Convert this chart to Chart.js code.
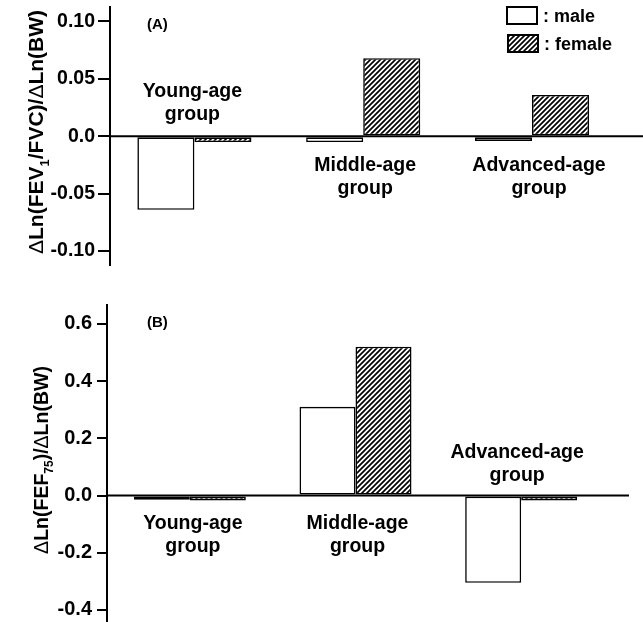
<!DOCTYPE html>
<html>
<head>
<meta charset="utf-8">
<script src="https://cdn.jsdelivr.net/npm/chart.js@4.4.1/dist/chart.umd.min.js"></script>
<style>
  html, body { margin: 0; padding: 0; background: #fff; }
  #wrap { position: relative; width: 643px; height: 622px; }
  .panel { position: absolute; left: 0; width: 643px; }
</style>
</head>
<body>
<div id="wrap">
  <div class="panel" style="top:0;height:290px"><canvas id="chartA"></canvas></div>
  <div class="panel" style="top:290px;height:332px"><canvas id="chartB"></canvas></div>
</div>
<script>
// Data
const groups = [['Young-age', 'group'], ['Middle-age', 'group'], ['Advanced-age', 'group']];
const seriesNames = ['male', 'female'];

// Panel A: dLn(FEV1/FVC)/dLn(BW)
const maleA = [-0.064, -0.005, -0.004];
const femaleA = [-0.005, 0.068, 0.036];
const ticksA = [-0.10, -0.05, 0.0, 0.05, 0.10];
const tickLabelsA = ['-0.10', '-0.05', '0.0', '0.05', '0.10'];

// Panel B: dLn(FEF75)/dLn(BW)
const maleB = [-0.015, 0.31, -0.305];
const femaleB = [-0.017, 0.52, -0.017];
const ticksB = [-0.4, -0.2, 0.0, 0.2, 0.4, 0.6];
const tickLabelsB = ['-0.4', '-0.2', '0.0', '0.2', '0.4', '0.6'];

const FONT = '"Liberation Sans", Arial, Helvetica, sans-serif';

function hatchPattern(ctx) {
    const s = 5;
    const c = document.createElement('canvas');
    c.width = c.height = s;
    const g = c.getContext('2d');
    g.fillStyle = '#fff';
    g.fillRect(0, 0, s, s);
    g.strokeStyle = '#000';
    g.lineWidth = 1.7;
    g.beginPath();
    g.moveTo(0, s); g.lineTo(s, 0);
    g.moveTo(-1, 1); g.lineTo(1, -1);
    g.moveTo(s - 1, s + 1); g.lineTo(s + 1, s - 1);
    g.stroke();
    return ctx.createPattern(c, 'repeat');
}

// draws rotated axis title with subscript, group labels, zero line, panel tag, legend
function panelPlugin(p) {
    return {
        id: 'panelDecor',
        afterDatasetsDraw(chart) {
            const ctx = chart.ctx;
            const xs = chart.scales.x, ys = chart.scales.y;
            const area = chart.chartArea;
            ctx.save();

            // zero line
            const y0 = ys.getPixelForValue(0);
            ctx.strokeStyle = '#000';
            ctx.lineWidth = 2;
            ctx.beginPath();
            ctx.moveTo(area.left, y0);
            ctx.lineTo(p.zeroEnd, y0);
            ctx.stroke();

            // group labels
            ctx.fillStyle = '#000';
            ctx.textAlign = 'center';
            ctx.textBaseline = 'alphabetic';
            ctx.font = 'bold ' + p.labelSize + 'px ' + FONT;
            groups.forEach((lines, i) => {
                const x = xs.getPixelForValue(i) + p.labelDx[i];
                const y = ys.getPixelForValue(p.labelAt[i]);
                lines.forEach((t, k) => ctx.fillText(t, x, y + k * p.lineGap));
            });

            // panel tag
            ctx.textAlign = 'left';
            ctx.font = 'bold 15px ' + FONT;
            ctx.fillText(p.tag, p.tagX, p.tagY);

            // y title, rotated, with subscript
            const size = p.titleSize;
            const fonts = {
                d: 'normal ' + size + 'px ' + FONT,
                b: 'bold ' + size + 'px ' + FONT,
                s: 'bold ' + Math.round(size * 0.62) + 'px ' + FONT
            };
            let total = 0;
            p.title.forEach(([t, f]) => { ctx.font = fonts[f]; total += ctx.measureText(t).width; });
            ctx.translate(p.titleX, p.titleY);
            ctx.rotate(-Math.PI / 2);
            let cx = -total / 2;
            p.title.forEach(([t, f]) => {
                ctx.font = fonts[f];
                ctx.fillText(t, cx, f === 's' ? size * 0.28 : 0);
                cx += ctx.measureText(t).width;
            });
            ctx.setTransform(1, 0, 0, 1, 0, 0);

            // legend (panel A only)
            if (p.legend) {
                const ds = chart.data.datasets;
                ctx.font = 'bold 18px ' + FONT;
                ctx.lineWidth = 2;
                p.legend.forEach((L, i) => {
                    ctx.fillStyle = ds[i].backgroundColor;
                    ctx.fillRect(L.x, L.y, 30, 17);
                    ctx.strokeStyle = '#000';
                    ctx.strokeRect(L.x, L.y, 30, 17);
                    ctx.fillStyle = '#000';
                    ctx.fillText(': ' + seriesNames[i], L.x + 36, L.y + 15);
                });
            }
            ctx.restore();
        }
    };
}

function makeChart(id, male, female, ticks, tickLabels, p) {
    const canvas = document.getElementById(id);
    const pattern = hatchPattern(canvas.getContext('2d'));
    return new Chart(canvas, {
        type: 'bar',
        data: {
            labels: groups.map(g => g.join(' ')),
            datasets: [
                { label: seriesNames[0], data: male, backgroundColor: '#fff', borderColor: '#000', borderWidth: 1.6, borderSkipped: false },
                { label: seriesNames[1], data: female, backgroundColor: pattern, borderColor: '#000', borderWidth: 1.6, borderSkipped: false }
            ]
        },
        options: {
            responsive: true,
            maintainAspectRatio: false,
            animation: false,
            layout: { padding: { left: 0, right: p.padRight, top: p.padTop, bottom: p.padBottom } },
            datasets: { bar: { categoryPercentage: 0.676, barPercentage: 1 } },
            plugins: { legend: { display: false }, tooltip: { enabled: false } },
            scales: {
                x: { display: false },
                y: {
                    min: p.min,
                    max: p.max,
                    afterBuildTicks: s => { s.ticks = ticks.map(v => ({ value: v })); },
                    afterFit: s => { s.width = p.axisX; s.paddingTop = 0; s.paddingBottom = 0; },
                    border: { display: true, color: '#000', width: 2 },
                    grid: { drawOnChartArea: false, drawTicks: true, tickLength: p.tickLen, color: '#000', lineWidth: 2 },
                    ticks: {
                        color: '#000',
                        padding: p.tickPad,
                        autoSkip: false,
                        font: { family: FONT, size: p.tickSize, weight: 'bold' },
                        callback: v => tickLabels[ticks.indexOf(v)]
                    }
                }
            }
        },
        plugins: [panelPlugin(p)]
    });
}

makeChart('chartA', maleA, femaleA, ticksA, tickLabelsA, {
    min: -0.1121, max: 0.1126,
    padTop: 7, padBottom: 25, padRight: 26.6, axisX: 110,
    tickLen: 12, tickPad: 3, tickSize: 19.5,
    zeroEnd: 643,
    labelSize: 19.5, lineGap: 23.3,
    labelAt: [0.0345, -0.030, -0.030], labelDx: [-2, 2, 7],
    tag: '(A)', tagX: 147, tagY: 29,
    titleSize: 21, titleX: 43, titleY: 132,
    title: [['Δ', 'd'], ['Ln(FEV', 'b'], ['1', 's'], ['/FVC)/', 'b'], ['Δ', 'd'], ['Ln(BW)', 'b']],
    legend: [{ x: 507, y: 7 }, { x: 508, y: 35 }]
});

makeChart('chartB', maleB, femaleB, ticksB, tickLabelsB, {
    min: -0.442, max: 0.666,
    padTop: 15, padBottom: 0, padRight: 39, axisX: 107,
    tickLen: 10, tickPad: 5, tickSize: 20,
    zeroEnd: 629,
    labelSize: 19.5, lineGap: 22.5,
    labelAt: [-0.117, -0.117, 0.131], labelDx: [3, 2, -4],
    tag: '(B)', tagX: 147, tagY: 37,
    titleSize: 19.5, titleX: 48, titleY: 170,
    title: [['Δ', 'd'], ['Ln(FEF', 'b'], ['75', 's'], [')/', 'b'], ['Δ', 'd'], ['Ln(BW)', 'b']],
    legend: null
});
</script>
</body>
</html>
